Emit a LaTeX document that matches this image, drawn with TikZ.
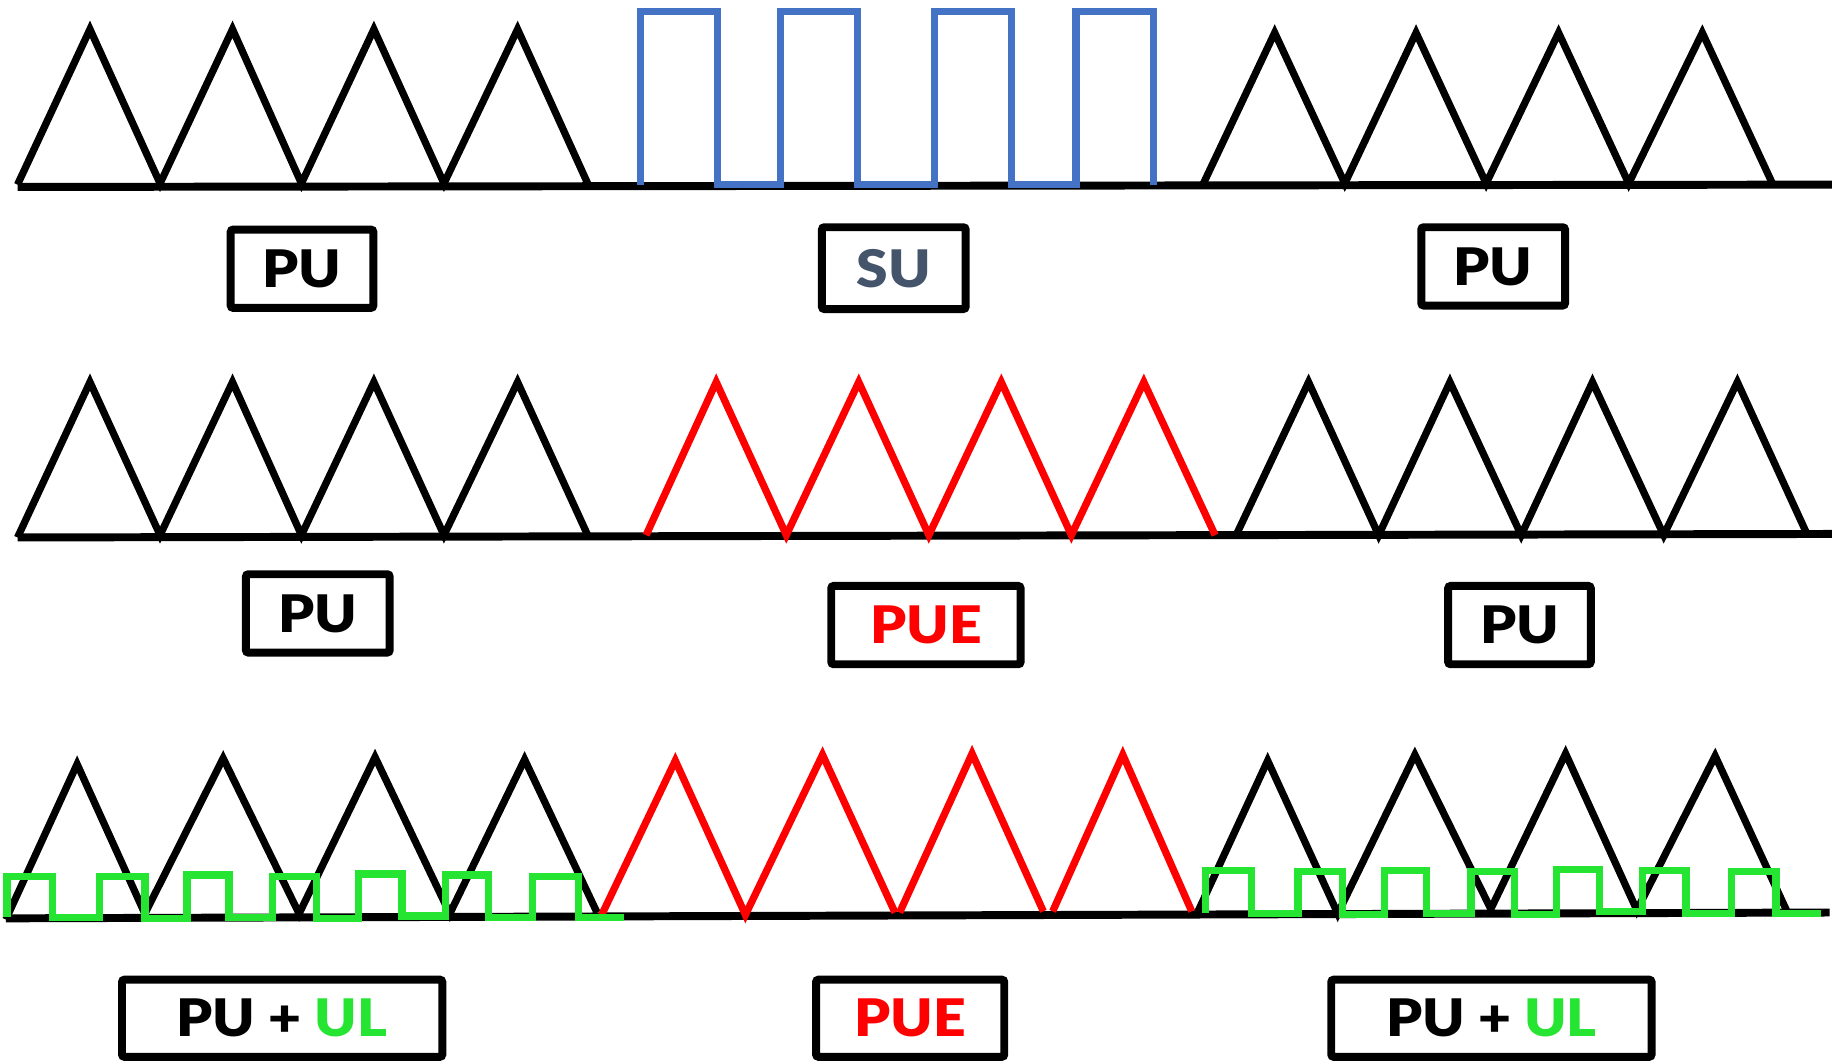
\documentclass[tikz,border=0pt]{standalone}
\usepackage{fontspec}
\newfontfamily\heavy{Lato Black}[FakeStretch=1.1]
\definecolor{bluew}{RGB}{68,114,196}
\definecolor{greenw}{RGB}{37,228,50}
\definecolor{redw}{RGB}{255,0,0}
\definecolor{sutext}{RGB}{68,84,106}
\tikzset{
  wave/.style={line width=0.062cm, black},
  baseline/.style={line width=0.068cm, black},
  lab/.style={draw, line width=0.068cm, rounded corners=0.6pt, inner sep=0pt,
    font=\heavy\fontsize{12.6}{14}\selectfont, minimum height=0.67cm}
}
\begin{document}
\begin{tikzpicture}[x=0.01cm, y=-0.01cm]
\useasboundingbox (0,0) rectangle (1568,908);

% ---------- Row 1 ----------
\draw[baseline] (15,160) -- (1568,158);
\draw[wave] (15,158) -- (77,25) -- (137,157) -- (199,25) -- (258,157) -- (320,25) -- (380,157) -- (443,25) -- (503,157);
\draw[wave, bluew] (548,158) -- (548,10) -- (614,10) -- (614,158) -- (668,158) -- (668,10) -- (734,10) -- (734,158) -- (800,158) -- (800,10) -- (866,10) -- (866,158) -- (921,158) -- (921,10) -- (987,10) -- (987,158);
\draw[wave] (1030,157) -- (1091,28) -- (1151,157) -- (1212,28) -- (1272,157) -- (1334,28) -- (1394,157) -- (1457,28) -- (1517,157);

\node[lab, minimum width=1.22cm] (pu1l) at (258.5,230) {PU};
\node[lab, minimum width=1.23cm, minimum height=0.70cm, text=sutext] (su1) at (765,229.5) {SU};
\node[lab, minimum width=1.23cm] (pu1r) at (1278,228) {PU};

% ---------- Row 2 ----------
\draw[baseline] (15,460) -- (1568,457);
\draw[wave] (15,460) -- (77,327) -- (137,458) -- (199,327) -- (258,458) -- (320,327) -- (380,458) -- (443,327) -- (503,458);
\draw[wave, redw] (553,458) -- (613,327) -- (673,458) -- (735,327) -- (795,458) -- (857,327) -- (917,458) -- (979,327) -- (1040,458);
\draw[wave] (1058,458) -- (1120,327) -- (1180,458) -- (1241,327) -- (1302,458) -- (1363,327) -- (1424,458) -- (1487,327) -- (1547,458);

\node[lab, minimum width=1.23cm] (pu2l) at (272,525) {PU};
\node[lab, minimum width=1.62cm, text=redw] (pue2) at (792.5,535) {PUE};
\node[lab, minimum width=1.22cm] (pu2r) at (1300.5,535) {PU};

% ---------- Row 3 ----------
\draw[baseline] (5,786) -- (1566,781);
\draw[wave] (5,787) -- (66,654) -- (124,782) -- (191,649) -- (256,782) -- (321,648) -- (385,782) -- (449,650) -- (511,781);
\draw[wave, redw] (515,783) -- (578,651) -- (638,783) -- (704,646) -- (766,781);
\draw[wave, redw] (770,781) -- (832,645) -- (893,780);
\draw[wave, redw] (901,780) -- (961,646) -- (1020,780);
\draw[wave] (1024,783) -- (1085,651) -- (1145,782) -- (1211,646) -- (1276,778) -- (1340,645) -- (1401,779) -- (1468,647) -- (1529,779);

\draw[wave, greenw] (6,785) -- (6,750) -- (45,750) -- (45,785) -- (85,785) -- (85,750) -- (124,750) -- (124,786) -- (160,786) -- (160,749) -- (196,749) -- (196,785) -- (233,785) -- (233,750) -- (271,750) -- (271,786) -- (307,786) -- (307,748) -- (344,748) -- (344,784) -- (381,784) -- (381,749) -- (418,749) -- (418,785) -- (456,785) -- (456,750) -- (495,750) -- (495,785) -- (534,785);
\draw[wave, greenw] (1032,781) -- (1032,745) -- (1071,745) -- (1071,782) -- (1111,782) -- (1111,746) -- (1149,746) -- (1149,783) -- (1185,783) -- (1185,745) -- (1221,745) -- (1221,782) -- (1259,782) -- (1259,746) -- (1296,746) -- (1296,783) -- (1332,783) -- (1332,744) -- (1369,744) -- (1369,780) -- (1406,780) -- (1406,745) -- (1443,745) -- (1443,782) -- (1482,782) -- (1482,746) -- (1520,746) -- (1520,782) -- (1559,782);

\node[lab, minimum width=2.74cm, minimum height=0.66cm] (pul3l) at (241.5,871.5) {PU + \textcolor{greenw}{UL}};
\node[lab, minimum width=1.61cm, minimum height=0.66cm, text=redw] (pue3) at (779,871.5) {PUE};
\node[lab, minimum width=2.74cm, minimum height=0.66cm] (pul3r) at (1276.5,871.5) {PU + \textcolor{greenw}{UL}};
\end{tikzpicture}
\end{document}
